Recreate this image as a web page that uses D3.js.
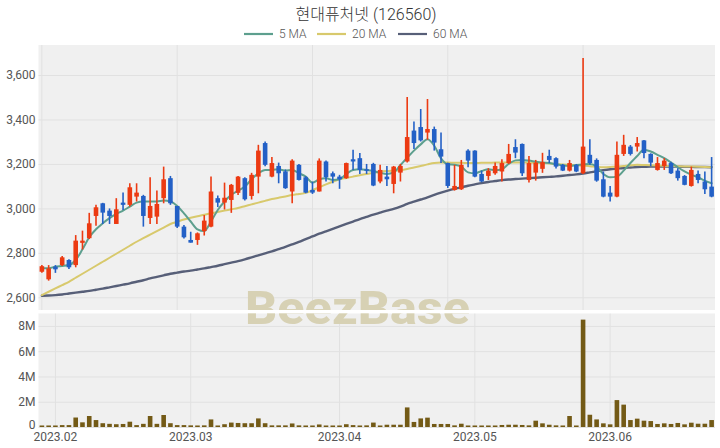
<!DOCTYPE html>
<html>
<head>
<meta charset="utf-8">
<script src="https://cdn.jsdelivr.net/npm/d3@7"></script>
<style>
  html, body { margin: 0; padding: 0; background: #ffffff; }
  svg { display: block; }
  text { font-family: Roboto, "Noto Sans CJK KR", sans-serif; }
</style>
</head>
<body>
<svg id="chart" width="720" height="448"></svg>
<script>
const title = "현대퓨처넷 (126560)";
const seriesNames = ["5 MA", "20 MA", "60 MA"];

const dates = [
  "2023-01-30","2023-01-31",
  "2023-02-01","2023-02-02","2023-02-03","2023-02-06","2023-02-07","2023-02-08","2023-02-09","2023-02-10",
  "2023-02-13","2023-02-14","2023-02-15","2023-02-16","2023-02-17","2023-02-20","2023-02-21","2023-02-22",
  "2023-02-23","2023-02-24","2023-02-27","2023-02-28",
  "2023-03-02","2023-03-03","2023-03-06","2023-03-07","2023-03-08","2023-03-09","2023-03-10","2023-03-13",
  "2023-03-14","2023-03-15","2023-03-16","2023-03-17","2023-03-20","2023-03-21","2023-03-22","2023-03-23",
  "2023-03-24","2023-03-27","2023-03-28","2023-03-29","2023-03-30","2023-03-31",
  "2023-04-03","2023-04-04","2023-04-05","2023-04-06","2023-04-07","2023-04-10","2023-04-11","2023-04-12",
  "2023-04-13","2023-04-14","2023-04-17","2023-04-18","2023-04-19","2023-04-20","2023-04-21","2023-04-24",
  "2023-04-25","2023-04-26","2023-04-27","2023-04-28",
  "2023-05-02","2023-05-03","2023-05-04","2023-05-08","2023-05-09","2023-05-10","2023-05-11","2023-05-12",
  "2023-05-15","2023-05-16","2023-05-17","2023-05-18","2023-05-19","2023-05-22","2023-05-23","2023-05-24",
  "2023-05-25","2023-05-26","2023-05-30","2023-05-31",
  "2023-06-01","2023-06-02","2023-06-05","2023-06-07","2023-06-08","2023-06-09","2023-06-12","2023-06-13",
  "2023-06-14","2023-06-15","2023-06-16","2023-06-19","2023-06-20","2023-06-21","2023-06-22","2023-06-23"
];

const openP = [
  2715,2681,2738,2745,2768,2745,2845,2866,2966,3023,
  2990,2930,3026,3016,3053,3056,2957,2963,3046,3136,
  3011,2918,2858,2858,2898,2918,3046,3026,3038,3070,
  3136,3056,3143,3294,3143,3191,3166,3076,3196,3140,
  3083,3076,3211,3158,3143,3136,3221,3226,3176,3200,
  3121,3143,3110,3161,3211,3350,3366,3341,3357,3266,
  3204,3083,3086,3260,3260,3155,3146,3158,3166,3204,
  3276,3290,3128,3161,3178,3236,3226,3196,3170,3196,
  3158,3241,3218,3131,3071,3053,3245,3278,3278,3306,
  3245,3173,3191,3204,3170,3146,3101,3155,3121,3098
];
const highP = [
  2745,2745,2745,2786,2771,2880,2900,2980,3016,3025,
  3000,3046,3071,3113,3113,3061,3140,3080,3188,3146,
  3011,2925,2895,2892,2970,3143,3058,3116,3110,3146,
  3140,3160,3286,3301,3231,3206,3175,3221,3200,3145,
  3120,3225,3215,3166,3151,3206,3264,3249,3200,3205,
  3196,3191,3191,3200,3501,3391,3447,3492,3368,3341,
  3206,3196,3218,3266,3262,3170,3181,3206,3221,3290,
  3311,3292,3236,3218,3250,3264,3230,3200,3218,3200,
  3677,3311,3225,3166,3101,3301,3331,3285,3321,3308,
  3248,3231,3226,3210,3181,3150,3188,3170,3166,3231
];
const lowP = [
  2710,2675,2710,2741,2727,2735,2815,2862,2922,2930,
  2930,2930,2993,3008,3031,2918,2930,2930,3023,3016,
  2912,2865,2846,2836,2878,2915,3006,2995,2980,3060,
  3035,3040,3068,3190,3140,3113,3088,3023,3125,3068,
  3065,3076,3121,3113,3088,3133,3173,3155,3155,3100,
  3113,3101,3068,3121,3206,3267,3301,3309,3260,3204,
  3092,3080,3083,3185,3140,3118,3128,3151,3121,3200,
  3226,3146,3116,3125,3160,3204,3180,3168,3166,3163,
  3155,3196,3120,3050,3031,3050,3236,3238,3256,3226,
  3190,3170,3173,3155,3125,3104,3098,3113,3065,3050
];
const closeP = [
  2740,2730,2726,2780,2735,2855,2855,2933,3005,2981,
  2966,2996,3016,3095,3071,2966,3011,3020,3131,3023,
  2918,2870,2846,2888,2945,3076,3026,3048,3106,3143,
  3041,3151,3260,3196,3204,3158,3091,3215,3128,3071,
  3071,3215,3140,3143,3131,3204,3211,3173,3170,3103,
  3173,3131,3188,3191,3321,3294,3306,3357,3296,3233,
  3101,3101,3196,3215,3143,3121,3170,3191,3204,3245,
  3251,3158,3204,3206,3208,3218,3188,3170,3204,3166,
  3278,3204,3125,3053,3053,3241,3286,3245,3294,3249,
  3206,3204,3215,3158,3136,3106,3173,3128,3086,3053
];
const volume = [
  120000,120000,120000,150000,150000,750000,370000,870000,550000,300000,
  250000,220000,240000,420000,150000,250000,870000,250000,950000,300000,
  150000,150000,130000,120000,130000,600000,120000,220000,350000,320000,
  300000,300000,680000,300000,130000,130000,130000,280000,130000,120000,
  120000,200000,120000,120000,120000,220000,150000,120000,130000,350000,
  120000,180000,180000,180000,1550000,400000,680000,740000,240000,240000,
  240000,130000,260000,120000,120000,120000,120000,120000,160000,180000,
  180000,160000,130000,500000,290000,180000,130000,120000,870000,120000,
  8500000,970000,600000,290000,210000,2130000,1770000,550000,660000,500000,
  470000,240000,290000,240000,320000,210000,340000,260000,260000,550000
];
const ma5 = [
  2731,2731,2738,2741,2745,2768,2816,2870,2906,2933,
  2956,2975,2990,3008,3026,3031,3031,3031,3035,3031,
  3011,2978,2941,2906,2898,2941,2993,3031,3061,3080,
  3098,3131,3158,3173,3173,3176,3170,3173,3158,3143,
  3116,3131,3136,3128,3131,3155,3173,3176,3173,3168,
  3160,3155,3162,3195,3228,3260,3288,3311,3282,3225,
  3198,3196,3188,3162,3158,3168,3176,3172,3176,3200,
  3216,3218,3215,3210,3206,3204,3198,3193,3191,3195,
  3198,3200,3188,3155,3140,3143,3170,3204,3236,3264,
  3256,3241,3226,3206,3185,3166,3151,3140,3125,3113
];
const ma20 = [
  2610,2625,2640,2655,2670,2688,2706,2724,2742,2760,
  2778,2796,2814,2832,2850,2866,2882,2898,2914,2930,
  2940,2950,2958,2965,2971,2978,2984,2990,2996,3002,
  3010,3018,3026,3034,3042,3048,3054,3060,3065,3070,
  3082,3095,3108,3120,3131,3137,3143,3149,3155,3160,
  3165,3168,3170,3172,3177,3184,3191,3198,3204,3206,
  3206,3205,3205,3204,3204,3205,3205,3206,3206,3206,
  3206,3206,3206,3205,3204,3202,3200,3198,3196,3194,
  3192,3190,3187,3185,3186,3188,3191,3194,3196,3195,
  3194,3193,3192,3191,3190,3189,3188,3187,3186,3185
];
const ma60 = [
  2607,2608,2610,2613,2617,2621,2625,2629,2634,2639,
  2645,2651,2657,2663,2670,2677,2685,2692,2699,2706,
  2711,2716,2720,2725,2730,2736,2742,2749,2756,2763,
  2771,2780,2789,2798,2807,2817,2827,2838,2849,2862,
  2874,2886,2897,2908,2919,2930,2941,2952,2962,2972,
  2981,2990,2998,3008,3020,3030,3040,3050,3061,3071,
  3080,3088,3095,3102,3108,3114,3119,3123,3127,3130,
  3132,3134,3136,3138,3140,3142,3144,3147,3150,3153,
  3157,3162,3167,3172,3176,3179,3182,3184,3186,3187,
  3188,3188,3188,3188,3188,3187,3187,3186,3186,3185
];
const priceTicks = [2600, 2800, 3000, 3200, 3400, 3600];
const volumeTicks = [0, 2000000, 4000000, 6000000, 8000000];
const watermark = "BeezBase";

// ---------- layout & styles ----------
const W = 720, H = 448;
const left = 38.5, right = 715;
const priceTop = 45, priceBottom = 310;
const volTop = 313.3, volBottom = 427;
const upColor = "#ec3a12", downColor = "#2360c6";
const maColors = ["#5d9f8e", "#d8c96c", "#575f78"];
const volColor = "#735a16";
const bgColor = "#f0f0f0", gridColor = "#e1e1e1", textColor = "#555";

const svg = d3.select("#chart");
const n = dates.length;
const idx = d3.range(n);

const x = d3.scaleBand().domain(idx).range([left, right]).padding(0);
const cx = i => x(i) + x.bandwidth() / 2;
const y = d3.scaleLinear().domain([2543, 3735]).range([priceBottom, priceTop]);
const yv = d3.scaleLinear().domain([0, 9000000]).range([volBottom, volTop]);

// backgrounds
svg.append("rect").attr("x", left).attr("y", priceTop).attr("width", right - left)
  .attr("height", priceBottom - priceTop).attr("fill", bgColor);
svg.append("rect").attr("x", left).attr("y", volTop).attr("width", right - left)
  .attr("height", volBottom - volTop).attr("fill", bgColor);

// price gridlines
const gridIdx = d3.scaleLinear().domain([0, n - 1]).ticks(5);
svg.append("g").selectAll("line").data(gridIdx).join("line")
  .attr("x1", d => cx(d)).attr("x2", d => cx(d))
  .attr("y1", priceTop).attr("y2", priceBottom)
  .attr("stroke", gridColor).attr("stroke-width", 1);
svg.append("g").attr("transform", `translate(${left},0)`)
  .call(d3.axisLeft(y).tickValues(priceTicks).tickSize(-(right - left)).tickFormat(""))
  .call(g => g.select(".domain").remove())
  .call(g => g.selectAll("line").attr("stroke", gridColor));

// month ticks for volume panel
const monthIdx = idx.filter(i => i > 0 && dates[i].slice(5, 7) !== dates[i - 1].slice(5, 7));
svg.append("g").selectAll("line").data(monthIdx).join("line")
  .attr("x1", d => cx(d)).attr("x2", d => cx(d))
  .attr("y1", volTop).attr("y2", volBottom)
  .attr("stroke", gridColor).attr("stroke-width", 1);
svg.append("g").attr("transform", `translate(${left},0)`)
  .call(d3.axisLeft(yv).tickValues(volumeTicks).tickSize(-(right - left)).tickFormat(""))
  .call(g => g.select(".domain").remove())
  .call(g => g.selectAll("line").attr("stroke", gridColor));

// watermark
svg.append("text").attr("x", 357.5).attr("y", 324).attr("text-anchor", "middle")
  .attr("font-family", "'Open Sans', Lato, sans-serif").attr("font-weight", 800)
  .attr("font-size", 47).attr("fill", "#d7d1b4")
  .attr("textLength", 225).attr("lengthAdjust", "spacingAndGlyphs")
  .text(watermark);
// gap between panels
svg.append("rect").attr("x", left).attr("y", priceBottom).attr("width", right - left)
  .attr("height", volTop - priceBottom).attr("fill", "#ffffff");

// axes labels
svg.append("g").attr("transform", `translate(${left},0)`)
  .call(d3.axisLeft(y).tickValues(priceTicks).tickSize(0).tickPadding(3).tickFormat(d3.format(",")))
  .call(g => g.select(".domain").remove())
  .call(g => g.selectAll("text").attr("fill", textColor).attr("font-size", 12)
     .attr("font-family", "Roboto, sans-serif"));
svg.append("g").attr("transform", `translate(${left},0)`)
  .call(d3.axisLeft(yv).tickValues(volumeTicks).tickSize(0).tickPadding(3)
     .tickFormat(d => d === 0 ? "0" : (d / 1e6) + "M"))
  .call(g => g.select(".domain").remove())
  .call(g => g.selectAll("text").attr("fill", textColor).attr("font-size", 12)
     .attr("font-family", "Roboto, sans-serif")
     .attr("dy", d => d === 0 ? "0.1em" : "0.32em"));
svg.append("g").attr("transform", `translate(0,${volBottom})`)
  .call(d3.axisBottom(x).tickValues(monthIdx).tickSize(0).tickPadding(5)
     .tickFormat(i => dates[i].slice(0, 4) + "." + dates[i].slice(5, 7)))
  .call(g => g.select(".domain").remove())
  .call(g => g.selectAll("text").attr("fill", textColor).attr("font-size", 12)
     .attr("font-family", "Roboto, sans-serif"));

// volume bars
const bw = 4.6;
svg.append("g").selectAll("rect").data(idx).join("rect")
  .attr("x", i => cx(i) - bw / 2).attr("width", bw)
  .attr("y", i => yv(volume[i])).attr("height", i => volBottom - yv(volume[i]))
  .attr("fill", volColor);

// MA lines
const maData = [ma5, ma20, ma60];
const line = arr => d3.line().x(i => cx(i)).y(i => y(arr[i])).curve(d3.curveMonotoneX)(idx);
const maWidths = [2, 2, 2.4];
[2, 1, 0].forEach(k => {
  svg.append("path").attr("d", line(maData[k])).attr("fill", "none")
    .attr("stroke", maColors[k]).attr("stroke-width", maWidths[k])
    .attr("stroke-linejoin", "round").attr("stroke-linecap", "round");
});

// candles
const cg = svg.append("g");
const col = i => closeP[i] >= openP[i] ? upColor : downColor;
cg.selectAll("line").data(idx).join("line")
  .attr("x1", i => cx(i)).attr("x2", i => cx(i))
  .attr("y1", i => y(highP[i])).attr("y2", i => y(lowP[i]))
  .attr("stroke", col).attr("stroke-width", 1.6);
cg.selectAll("rect").data(idx).join("rect")
  .attr("x", i => cx(i) - bw / 2).attr("width", bw)
  .attr("y", i => y(Math.max(openP[i], closeP[i])))
  .attr("height", i => Math.max(1.5, Math.abs(y(openP[i]) - y(closeP[i]))))
  .attr("fill", col);

// title
svg.append("text").attr("x", 366).attr("y", 20).attr("text-anchor", "middle")
  .attr("font-size", 16).attr("font-weight", 300).attr("fill", "#333")
  .attr("font-family", "Roboto, 'Noto Sans CJK KR', sans-serif")
  .text(title);

// legend
const legendX = [244, 317, 398];
const lg = svg.append("g");
seriesNames.forEach((name, k) => {
  lg.append("line").attr("x1", legendX[k]).attr("x2", legendX[k] + 29)
    .attr("y1", 34).attr("y2", 34).attr("stroke", maColors[k]).attr("stroke-width", 2.2);
  lg.append("text").attr("x", legendX[k] + 35).attr("y", 38.2)
    .attr("font-size", 12).attr("fill", textColor).attr("font-weight", 300)
    .text(name);
});
</script>
</body>
</html>
